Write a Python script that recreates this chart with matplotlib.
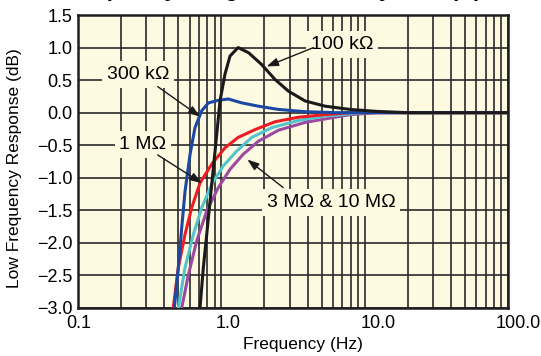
import numpy as np
import matplotlib
matplotlib.use("Agg")
import matplotlib.pyplot as plt
import matplotlib.transforms as mtransforms

plt.rcParams['font.family'] = ['Liberation Sans', 'DejaVu Sans']

# values (frequency in Hz, response in dB)
f_100k = [0.71, 0.749, 0.791, 0.834, 0.88, 0.929, 0.979, 1.06, 1.15, 1.31, 1.55, 1.91, 2.37, 2.94, 3.84, 5.29, 7.9, 12.0, 20.0, 100.0]
db_100k = [-3.0, -2.38, -1.87, -1.36, -0.85, -0.33, 0.18, 0.59, 0.87, 1.0, 0.92, 0.74, 0.51, 0.33, 0.18, 0.10, 0.05, 0.02, 0.0, 0.0]

f_300k = [0.47, 0.501, 0.529, 0.558, 0.605, 0.655, 0.73, 0.812, 0.953, 1.12, 1.39, 1.81, 2.5, 3.84, 6.2, 100.0]
db_300k = [-3.0, -2.38, -1.77, -1.21, -0.64, -0.23, 0.03, 0.15, 0.19, 0.21, 0.15, 0.10, 0.05, 0.015, 0.0, 0.0]

f_1m = [0.462, 0.501, 0.558, 0.621, 0.71, 0.857, 1.06, 1.31, 1.72, 2.37, 3.45, 5.29, 8.0, 100.0]
db_1m = [-3.0, -2.38, -1.87, -1.46, -1.08, -0.79, -0.54, -0.38, -0.26, -0.14, -0.07, -0.03, 0.0, 0.0]

f_3m = [0.501, 0.558, 0.638, 0.73, 0.857, 1.03, 1.28, 1.63, 2.25, 3.45, 5.29, 6.2, 10.0, 100.0]
db_3m = [-3.0, -2.38, -1.87, -1.46, -1.10, -0.82, -0.59, -0.38, -0.23, -0.12, -0.05, -0.04, 0.0, 0.0]

f_10m = [0.529, 0.589, 0.673, 0.791, 0.953, 1.15, 1.42, 1.81, 2.5, 3.84, 6.2, 8.0, 12.0, 100.0]
db_10m = [-3.0, -2.49, -1.97, -1.51, -1.15, -0.87, -0.64, -0.44, -0.27, -0.15, -0.07, -0.03, 0.0, 0.0]

x_ticks = [0.1, 1.0, 10.0, 100.0]
x_ticklabels = ["0.1", "1.0", "10.0", "100.0"]
y_ticks = np.arange(-3.0, 1.51, 0.5)

bg = "#fef9e1"

fig = plt.figure(figsize=(5.41, 3.56), dpi=100)
ax = fig.add_axes([78/541, 48/356, 430/541, 293/356])
ax.set_facecolor(bg)

series = [
    (f_10m, db_10m, "#9b4a9f"),
    (f_3m, db_3m, "#52c4cc"),
    (f_1m, db_1m, "#ec1c24"),
    (f_300k, db_300k, "#1b48a5"),
    (f_100k, db_100k, "#1a1a1a"),
]
for f, d, c in series:
    ax.plot(f, d, color=c, lw=2.2, solid_capstyle='round', solid_joinstyle='round', zorder=3)

ax.set_xscale('log')
ax.set_xlim(0.1, 100)
ax.set_ylim(-3.0, 1.5)

ax.set_xticks(x_ticks)
ax.set_xticklabels(x_ticklabels)
ax.set_xticks([m * d for d in (0.1, 1, 10) for m in range(2, 10)], minor=True)
ax.set_xticklabels([], minor=True)
ax.set_yticks(y_ticks)
ax.set_yticklabels([f"{v:.1f}".replace("-", "\u2212") for v in y_ticks])
ax.tick_params(which='both', length=0, labelsize=13, pad=4)
ax.tick_params(axis='x', pad=5)

# labels in the reference sit a bit right of their grid lines
for lbl, dx in zip(ax.get_xticklabels(), [1, 7, 14, 10]):
    lbl.set_transform(lbl.get_transform() + mtransforms.ScaledTranslation(dx/100, 0, fig.dpi_scale_trans))

ax.grid(True, which='both', color='#2a2a2a', lw=1.2, zorder=1)
ax.set_axisbelow(True)
for s in ax.spines.values():
    s.set_linewidth(1.8)
    s.set_color('#1e1e1e')

fig.text(303/541, 1 - 345/356, "Frequency (Hz)", fontsize=12.5, ha='center', va='center')
fig.text(15/541, 1 - 168/356, "Low Frequency Response (dB)", fontsize=12.5, ha='center', va='center',
         rotation=90)

box = dict(boxstyle='square,pad=0.25', fc=bg, ec='none')
arrow = dict(arrowstyle='-|>,head_length=0.7,head_width=0.25', color='#1a1a1a', lw=1.0,
             mutation_scale=10, shrinkA=0, shrinkB=0)

labels = [
    ("100 k\u03a9", (6.95, 1.05), (4.4, 1.0), (2.07, 0.71)),
    ("300 k\u03a9", (0.262, 0.585), (0.36, 0.40), (0.71, -0.06)),
    ("1 M\u03a9", (0.284, -0.49), (0.36, -0.65), (0.73, -1.08)),
    ("3 M\u03a9 & 10 M\u03a9", (5.84, -1.385), (2.7, -1.15), (1.52, -0.72)),
]
for txt, pos, start, tip in labels:
    ax.text(pos[0], pos[1], txt, fontsize=14, ha='center', va='center', bbox=box, zorder=5)
    ax.annotate("", xy=tip, xytext=start, arrowprops=arrow, zorder=6)

# title is cut off at the top edge in the reference, only its descenders show
fig.text(0.025, 1 + 4/356, "Low Frequency Range Versus Body Bias (R)", fontsize=16,
         fontweight='bold', va='baseline', ha='left')

fig.savefig("out.png", dpi=100, facecolor='white')
